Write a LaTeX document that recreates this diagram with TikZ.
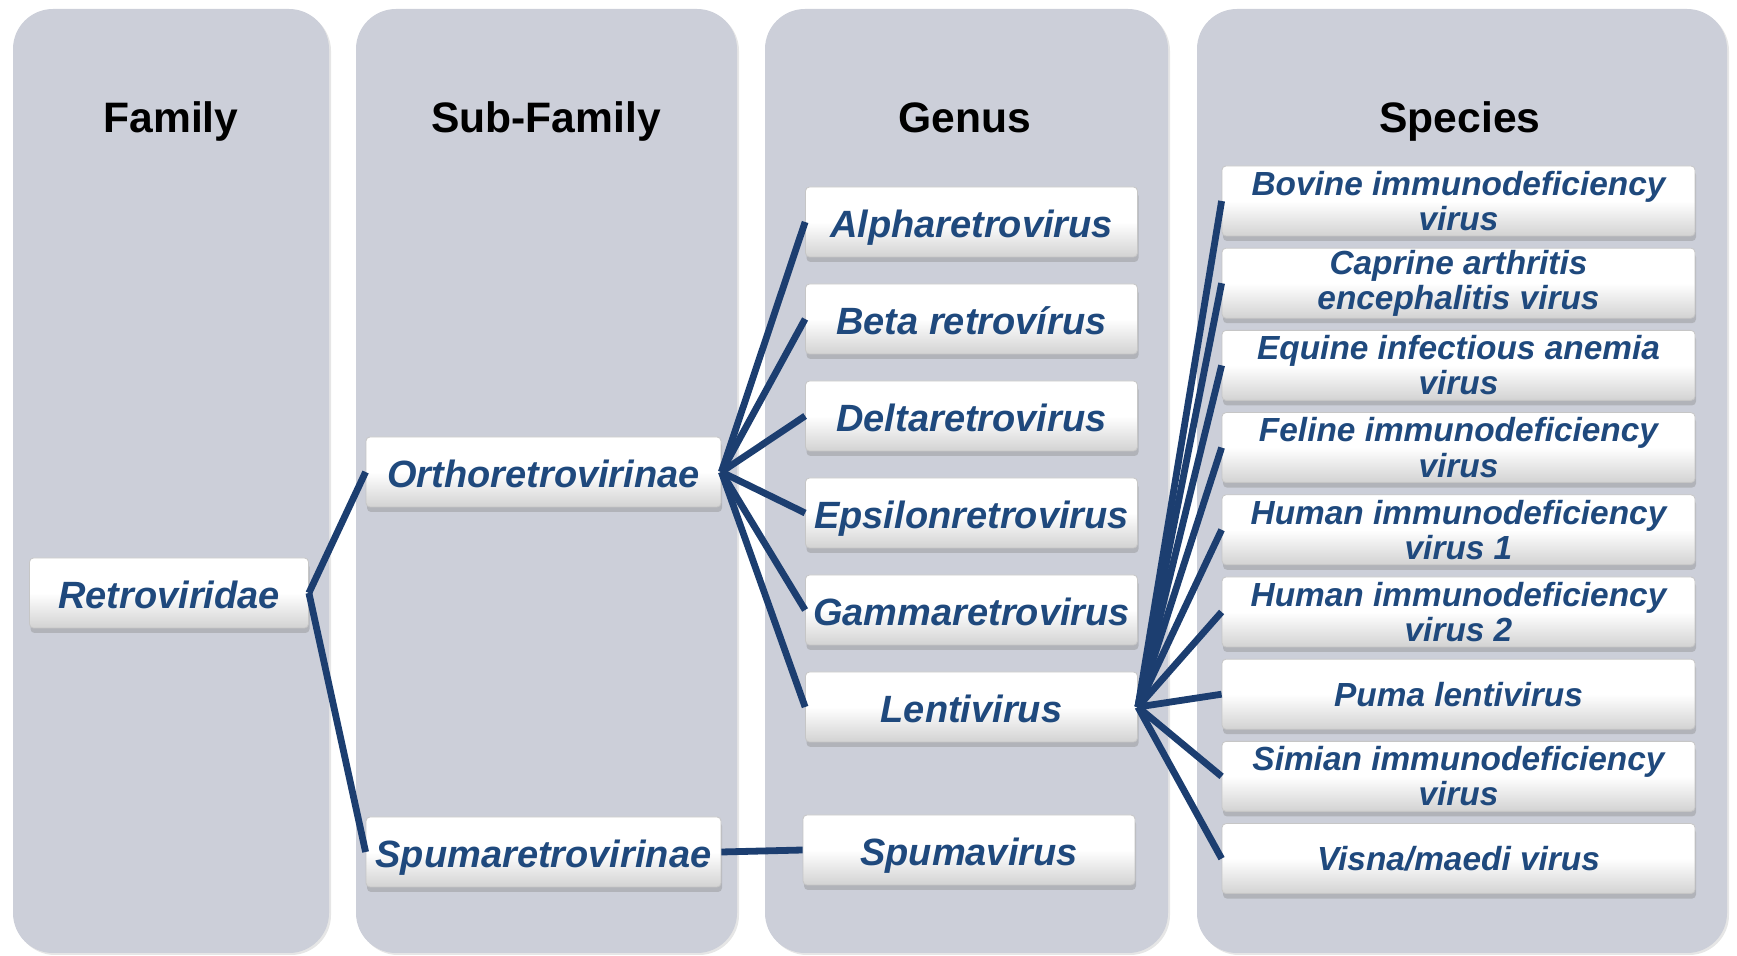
\documentclass[tikz,border=0pt]{standalone}
\usepackage{fontspec}
\setmainfont{Liberation Sans}
\usetikzlibrary{shadows}

\definecolor{panelgray}{RGB}{204,207,217}
\definecolor{taxonblue}{RGB}{31,73,125}
\definecolor{linkblue}{RGB}{28,62,112}

\begin{document}
\begin{tikzpicture}[
    x=0.5pt, y=-0.5pt,
    panel/.style={fill=panelgray, rounded corners=20pt,
      drop shadow={shadow xshift=1pt, shadow yshift=-1pt, opacity=0.2}},
    head/.style={anchor=base, font=\bfseries\fontsize{21.3}{24}\selectfont},
    taxon/.style={rectangle, rounded corners=2pt, draw=gray!45, line width=0.4pt,
      top color=white, bottom color=gray!35, middle color=white,
      drop shadow={shadow xshift=0.5pt, shadow yshift=-2.5pt, opacity=0.35},
      text=taxonblue, minimum height=35pt, inner sep=0pt, align=center,
      font=\bfseries\itshape\fontsize{19}{22}\selectfont},
    oneline/.style={taxon, text height=17pt, text depth=1pt},
    subfam/.style={oneline, minimum width=177.5pt},
    genus/.style={oneline, minimum width=166pt},
    species/.style={taxon, minimum width=236.5pt,
      font=\bfseries\itshape\fontsize{16.7}{17.6}\selectfont},
    link/.style={draw=linkblue, line width=3.4pt}
  ]
    \useasboundingbox (0,0) rectangle (1737,956);

    % column panels
    \path[panel] (13,9) rectangle (329,953);
    \path[panel] (356,9) rectangle (737,953);
    \path[panel] (765,9) rectangle (1168,953);
    \path[panel] (1197,9) rectangle (1727,953);

    \node[head] (hfam) at (171,133) {Family};
    \node[head] (hsub) at (546,133) {Sub-Family};
    \node[head] (hgen) at (965,133) {Genus};
    \node[head] (hspe) at (1460,133) {Species};

    % family and sub-families
    \node[oneline, minimum width=139.5pt] (retro) at (169,593) {Retroviridae};
    \node[subfam] (ortho) at (543.5,472) {Orthoretrovirinae};
    \node[subfam] (spumae) at (543.5,852) {Spumaretrovirinae};

    % genera
    \node[genus] (alpha) at (971.5,222) {Alpharetrovirus};
    \node[genus] (beta) at (971.5,319) {Beta retrovírus};
    \node[genus] (delta) at (971.5,416) {Deltaretrovirus};
    \node[genus] (epsilon) at (971.5,513) {Epsilonretrovirus};
    \node[genus] (gamma) at (971.5,610) {Gammaretrovirus};
    \node[genus] (lenti) at (971.5,707) {Lentivirus};
    \node[genus] (spuma) at (969,850) {Spumavirus};

    % species
    \node[species] (biv) at (1458.5,201) {Bovine immunodeficiency\\virus};
    \node[species] (caev) at (1458.5,283.2) {Caprine arthritis\\encephalitis virus};
    \node[species] (eiav) at (1458.5,365.4) {Equine infectious anemia\\virus};
    \node[species] (fiv) at (1458.5,447.6) {Feline immunodeficiency\\virus};
    \node[species] (hiv1) at (1458.5,529.8) {Human immunodeficiency\\virus 1};
    \node[species] (hiv2) at (1458.5,612) {Human immunodeficiency\\virus 2};
    \node[species] (puma) at (1458.5,694.2) {Puma lentivirus};
    \node[species] (siv) at (1458.5,776.4) {Simian immunodeficiency\\virus};
    \node[species] (visna) at (1458.5,858.6) {Visna/maedi virus};

    % links
    \draw[link] (retro.east) -- (ortho.west);
    \draw[link] (retro.east) -- (spumae.west);
    \draw[link] (ortho.east) -- (alpha.west);
    \draw[link] (ortho.east) -- (beta.west);
    \draw[link] (ortho.east) -- (delta.west);
    \draw[link] (ortho.east) -- (epsilon.west);
    \draw[link] (ortho.east) -- (gamma.west);
    \draw[link] (ortho.east) -- (lenti.west);
    \draw[link] (spumae.east) -- (spuma.west);
    \draw[link] (lenti.east) -- (biv.west);
    \draw[link] (lenti.east) -- (caev.west);
    \draw[link] (lenti.east) -- (eiav.west);
    \draw[link] (lenti.east) -- (fiv.west);
    \draw[link] (lenti.east) -- (hiv1.west);
    \draw[link] (lenti.east) -- (hiv2.west);
    \draw[link] (lenti.east) -- (puma.west);
    \draw[link] (lenti.east) -- (siv.west);
    \draw[link] (lenti.east) -- (visna.west);
\end{tikzpicture}
\end{document}
